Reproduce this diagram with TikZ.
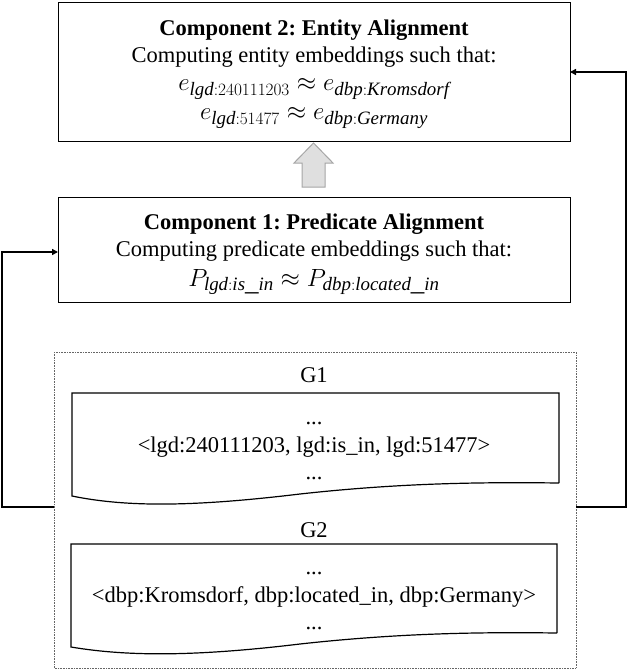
\documentclass[tikz,border=0pt]{standalone}
\usepackage{fontspec}
\setmainfont{Liberation Serif}
\usetikzlibrary{arrows.meta}
\begin{document}
\begin{tikzpicture}[x=1pt,y=-1pt,
  box/.style={draw,line width=0.8pt},
  conn/.style={line width=1.5pt,-{Triangle[length=6pt,width=6pt]}},
  txt/.style={font=\fontsize{22.5}{26}\selectfont,inner sep=0pt},
  mth/.style={font=\fontsize{27}{29}\selectfont,inner sep=0pt}]
\useasboundingbox (0,0) rectangle (630,670);
\draw[box] (58,2) rectangle (570,141);
\node[txt] (c2a) at (314,30) {\textbf{Component 2:\ Entity Alignment}};
\node[txt] (c2b) at (314,57) {Computing entity embeddings such that:};
\node[mth] (c2c) at (314,89) {$e_{\mathit{lgd}:240111203}\approx e_{\mathit{dbp}:\mathit{Kromsdorf}}$};
\node[mth] (c2d) at (314,118) {$e_{\mathit{lgd}:51477}\approx e_{\mathit{dbp}:\mathit{Germany}}$};
\draw[box] (58,197) rectangle (570,302);
\node[txt] (c1a) at (314,224) {\textbf{Component 1:\ Predicate Alignment}};
\node[txt] (c1b) at (314,251) {Computing predicate embeddings such that:};
\node[mth] (c1c) at (314,282) {$P_{\mathit{lgd}:\mathit{is\_in}}\approx P_{\mathit{dbp}:\mathit{located\_in}}$};
\draw[draw=gray!70,fill=gray!25,line width=1pt] (302,187)--(302,163)--(294,163)--(313.5,143)--(333,163)--(325,163)--(325,187)--cycle;
\draw[densely dotted,gray!80!black,line width=0.6pt] (54,352) rectangle (576,668);
\node[txt] (g1) at (314,375) {G1};
\draw[line width=1.2pt] (559,483)--(559,393)--(72,393)--(72,496) .. controls (130,508) and (200,506) .. (300,494) .. controls (400,483) and (480,482) .. (559,483);
\node[txt] (t1a) at (314,423) {...};
\node[txt] (t1b) at (314,447) {<lgd:240111203, lgd:is\_in, lgd:51477>};
\node[txt] (t1c) at (314,478) {...};
\node[txt] (g2) at (314,530) {G2};
\draw[line width=1.2pt] (557,633)--(557,544)--(71,544)--(71,647) .. controls (130,657) and (200,656) .. (300,644) .. controls (400,633) and (480,632) .. (557,633);
\node[txt] (t2a) at (314,573) {...};
\node[txt] (t2b) at (314,597) {<dbp:Kromsdorf, dbp:located\_in, dbp:Germany>};
\node[txt] (t2c) at (314,628) {...};
\coordinate (l) at (54,507); \coordinate (r) at (576,507);
\draw[conn] (l) -- (2,507) -- (2,252) -- (58,252);
\draw[conn] (r) -- (626,507) -- (626,72) -- (570,72);
\end{tikzpicture}
\end{document}
